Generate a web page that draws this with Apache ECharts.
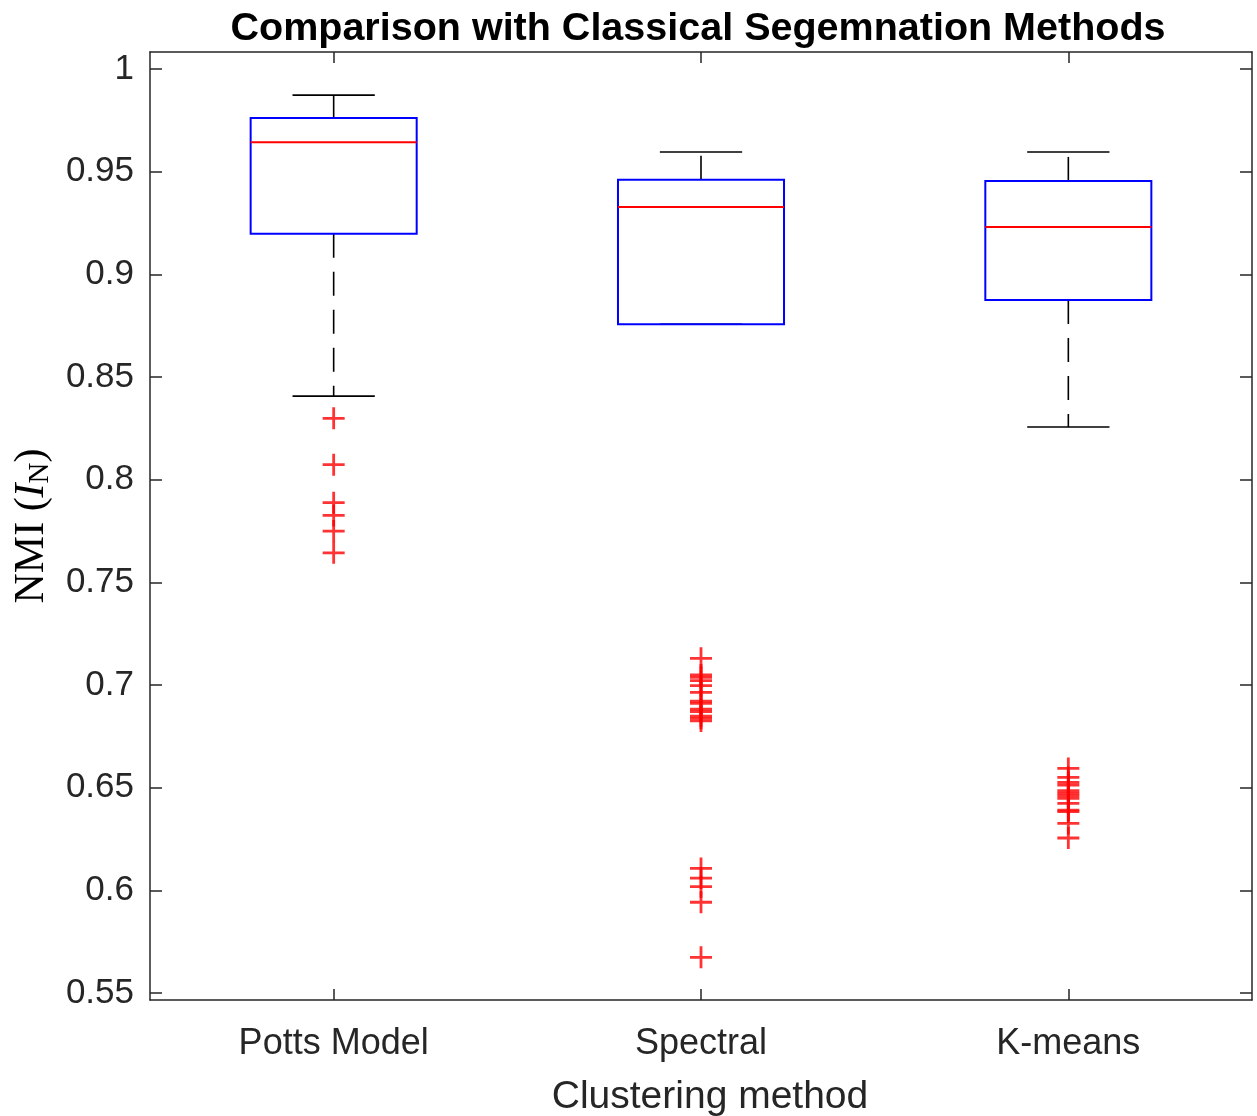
<!DOCTYPE html>
<html>
<head>
<meta charset="utf-8">
<script src="https://cdn.jsdelivr.net/npm/echarts@6/dist/echarts.min.js"></script>
<style>
  html, body { margin: 0; padding: 0; background: #fff; }
  #chart { width: 1257px; height: 1116px; }
</style>
</head>
<body>
<div id="chart"></div>
<script>
// box statistics, one entry per method
const categories = ['Potts Model', 'Spectral', 'K-means']
const whiskerLow = [0.8407, 0.8757, 0.8257]
const q1 = [0.9198, 0.8757, 0.8875]
const medians = [0.9643, 0.9328, 0.9231]
const q3 = [0.9761, 0.9461, 0.9455]
const whiskerHigh = [0.9873, 0.9596, 0.9596]

// outliers (red +)
const outliersPotts = [0.8299, 0.8073, 0.7888, 0.7826, 0.7750, 0.7644]
const outliersSpectral = [0.7130, 0.7049, 0.7037, 0.7021, 0.6997, 0.6964, 0.6922, 0.6911,
  0.6882, 0.6870, 0.6849, 0.6838, 0.6825, 0.6107, 0.6060, 0.6018, 0.5942, 0.5674]
const outliersKmeans = [0.6594, 0.6550, 0.6526, 0.6513, 0.6485, 0.6472, 0.6461, 0.6448,
  0.6424, 0.6391, 0.6383, 0.6326, 0.6255]

const yTicks = [0.55, 0.6, 0.65, 0.7, 0.75, 0.8, 0.85, 0.9, 0.95, 1]
const yMin = 0.5466
const yMax = 1.0083

const font = 'Arial, "Liberation Sans", Helvetica, sans-serif'
const serif = '"Liberation Serif", "Times New Roman", serif'
const axisColor = '#262626'

const boxData = categories.map((c, i) => [i, whiskerLow[i], q1[i], medians[i], q3[i], whiskerHigh[i]])
const outlierData = []
;[outliersPotts, outliersSpectral, outliersKmeans].forEach((arr, i) => {
  arr.forEach(v => outlierData.push([i, v]))
})

function renderBox(params, api) {
  const x = api.value(0)
  const band = api.size([1, 0])[0]
  const half = band * 0.226
  const capHalf = band * 0.112
  const pLow = api.coord([x, api.value(1)])
  const pQ1 = api.coord([x, api.value(2)])
  const pMed = api.coord([x, api.value(3)])
  const pQ3 = api.coord([x, api.value(4)])
  const pHigh = api.coord([x, api.value(5)])
  const cx = pMed[0]
  const black = { stroke: '#000', lineWidth: 1.6 }
  const dashed = { stroke: '#000', lineWidth: 1.6, lineDash: [24, 14] }
  return {
    type: 'group',
    children: [
      { type: 'line', shape: { x1: cx, y1: pQ1[1], x2: cx, y2: pLow[1] }, style: dashed },
      { type: 'line', shape: { x1: cx, y1: pQ3[1], x2: cx, y2: pHigh[1] }, style: dashed },
      { type: 'line', shape: { x1: cx - capHalf, y1: pLow[1], x2: cx + capHalf, y2: pLow[1] }, style: black },
      { type: 'line', shape: { x1: cx - capHalf, y1: pHigh[1], x2: cx + capHalf, y2: pHigh[1] }, style: black },
      { type: 'rect', shape: { x: cx - half, y: pQ3[1], width: half * 2, height: pQ1[1] - pQ3[1] },
        style: { fill: 'none', stroke: '#0000ff', lineWidth: 2 } },
      { type: 'line', shape: { x1: cx - half, y1: pMed[1], x2: cx + half, y2: pMed[1] },
        style: { stroke: '#ff0000', lineWidth: 2 } }
    ]
  }
}

const chart = echarts.init(document.getElementById('chart'))

const yAxisBase = {
  type: 'value',
  min: yMin,
  max: yMax,
  axisLine: { show: true, lineStyle: { color: axisColor, width: 1.5 } },
  axisTick: { show: true, inside: true, length: 12, customValues: yTicks, lineStyle: { color: axisColor, width: 1.5 } },
  splitLine: { show: false }
}
const xAxisBase = {
  type: 'category',
  data: categories,
  axisLine: { show: true, onZero: false, lineStyle: { color: axisColor, width: 1.5 } },
  axisTick: { show: true, inside: true, length: 11, alignWithLabel: true, lineStyle: { color: axisColor, width: 1.5 } },
  splitLine: { show: false }
}

chart.setOption({
  animation: false,
  backgroundColor: '#fff',
  title: {
    text: 'Comparison with Classical Segemnation Methods',
    left: 693,
    textAlign: 'center',
    top: 4,
    textStyle: { fontFamily: font, fontWeight: 'bold', fontSize: 39.5, color: '#000' }
  },
  grid: { left: 150, right: 5, top: 52, bottom: 116, outerBoundsMode: 'none', containLabel: false },
  xAxis: [
    Object.assign({}, xAxisBase, {
      position: 'bottom',
      axisLabel: { fontFamily: font, fontSize: 36, color: axisColor, margin: 26 },
      name: 'Clustering method',
      nameLocation: 'middle',
      nameGap: 78,
      nameTextStyle: { fontFamily: font, fontSize: 39, color: axisColor, padding: [0, 0, 0, 18] }
    }),
    Object.assign({}, xAxisBase, { position: 'top', axisLabel: { show: false } })
  ],
  yAxis: [
    Object.assign({}, yAxisBase, {
      position: 'left',
      axisLabel: { fontFamily: font, fontSize: 35, color: axisColor, margin: 16, customValues: yTicks,
        formatter: v => String(+v.toFixed(2)) },
      name: '{a|NMI (}{b|I}{c|N}{a|)}',
      nameLocation: 'middle',
      nameGap: 85,
      nameTextStyle: {
        rich: {
          a: { fontFamily: serif, fontSize: 42, color: '#000' },
          b: { fontFamily: serif, fontSize: 42, fontStyle: 'italic', color: '#000' },
          c: { fontFamily: serif, fontSize: 29, color: '#000', verticalAlign: 'bottom', padding: [17, 0, 0, 0] }
        }
      }
    }),
    Object.assign({}, yAxisBase, { position: 'right', axisLabel: { show: false } })
  ],
  series: [
    {
      type: 'custom',
      renderItem: renderBox,
      data: boxData,
      encode: { x: 0, y: [1, 2, 3, 4, 5] },
      z: 2
    },
    {
      type: 'scatter',
      data: outlierData,
      symbol: 'path://M9.6,0H12.4V9.6H22V12.4H12.4V22H9.6V12.4H0V9.6H9.6Z',
      symbolSize: 22,
      itemStyle: { color: '#ff0000' },
      z: 3
    }
  ]
})
</script>
</body>
</html>
